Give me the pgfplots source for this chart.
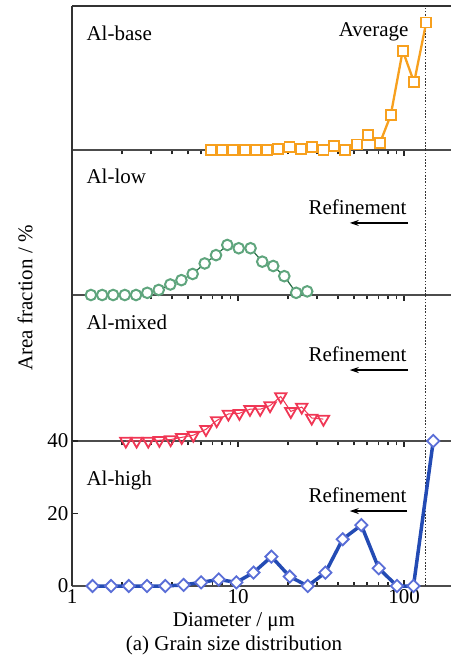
\documentclass[border=0pt]{standalone}
\usepackage{fontspec}
\setmainfont{Liberation Serif}
\usepackage{pgfplots}
\pgfplotsset{compat=1.18}
\usetikzlibrary{arrows.meta}
\definecolor{cOrange}{RGB}{247,160,30}
\definecolor{cGreenM}{RGB}{95,165,125}
\definecolor{cGreenL}{RGB}{40,110,70}
\definecolor{cRed}{RGB}{240,55,85}
\definecolor{cBlueL}{RGB}{35,75,180}
\definecolor{cBlueM}{RGB}{90,110,215}
\newcommand\bigf{\fontsize{21}{24}\selectfont}
\tikzset{avgline/.style={draw=black!80, line width=1.2pt, dash pattern=on 1.6pt off 1.6pt}}
\begin{document}
\begin{tikzpicture}
\path[use as bounding box] (0,0) rectangle (451pt,657pt);
% ---------- Al-base ----------
\begin{axis}[at={(72pt,507pt)}, height=144pt,
    scale only axis, width=379pt, anchor=south west,
    xmode=log, xmin=1, xmax=191.9, ymin=0, ymax=40,
    axis x line*=bottom, axis y line*=left,
    x axis line style={line width=2.6pt, black!70, -},
    y axis line style={line width=1.3pt, black!80, -},
    ytick=\empty, xticklabels=\empty, clip=false,
    tick style={black!85, line width=1.5pt},
    major tick length=6pt, minor tick length=4.5pt, tick align=outside]
\draw[avgline] (axis cs:134,0) -- (axis cs:134,40);
\draw[black!80, line width=1.4pt] (rel axis cs:0,1) -- (rel axis cs:1,1);
\addplot[color=cOrange, line width=2.3pt, mark=square*, mark size=5pt,
  mark options={solid, fill=white, draw=cOrange, line width=1.8pt}] coordinates {
(6.85,0) (7.98,0) (9.29,0) (11.0,0) (12.8,0) (15.0,0) (17.5,0.2) (20.4,0.9)
(23.9,0.2) (27.8,0.9) (32.7,0) (37.9,1.2) (44.1,0) (51.9,1.5) (61.0,4.1)
(71.7,2.0) (83.2,9.7) (98.2,27.6) (115,18.8) (136,35.4)};
\node[anchor=west, font=\bigf] at (rel axis cs:0.029,0.81) {Al-base};
\node[anchor=east, font=\bigf] at (rel axis cs:0.897,0.82) {Average};
\end{axis}
% ---------- Al-low ----------
\begin{axis}[at={(72pt,362pt)}, height=145pt,
    scale only axis, width=379pt, anchor=south west,
    xmode=log, xmin=1, xmax=191.9, ymin=0, ymax=40,
    axis x line*=bottom, axis y line*=left,
    x axis line style={line width=2.6pt, black!70, -},
    y axis line style={line width=1.3pt, black!80, -},
    ytick=\empty, xticklabels=\empty, clip=false,
    tick style={black!85, line width=1.5pt},
    major tick length=6pt, minor tick length=4.5pt, tick align=outside]
\draw[avgline] (axis cs:134,0) -- (axis cs:134,40);
\addplot[color=cGreenL, line width=1.2pt, mark=*, mark size=5.3pt,
  mark options={solid, fill=white, draw=cGreenM, line width=2pt}] coordinates {
(1.30,0) (1.52,0) (1.77,0) (2.08,0) (2.43,0) (2.84,0.6) (3.33,1.4) (3.91,2.9)
(4.56,4.1) (5.33,5.8) (6.30,8.7) (7.37,11.0) (8.62,13.8) (10.1,12.9) (11.9,12.9)
(14.0,9.2) (16.3,8.0) (19.0,5.2) (22.4,0.6) (26.1,1.0)};
\node[anchor=west, font=\bigf] at (rel axis cs:0.029,0.82) {Al-low};
\node[anchor=east, font=\bigf] at (rel axis cs:0.892,0.607) {Refinement};
\draw[-{Stealth[length=9pt,width=6pt]}, line width=1.4pt] (rel axis cs:0.887,0.497) -- (rel axis cs:0.733,0.497);
\end{axis}
% ---------- Al-mixed ----------
\begin{axis}[at={(72pt,216pt)}, height=146pt,
    scale only axis, width=379pt, anchor=south west,
    xmode=log, xmin=1, xmax=191.9, ymin=0, ymax=40,
    axis x line*=bottom, axis y line*=left,
    x axis line style={line width=2.6pt, black!70, -},
    y axis line style={line width=1.3pt, black!80, -},
    ytick=\empty, xticklabels=\empty, clip=false,
    tick style={black!85, line width=1.5pt},
    major tick length=6pt, minor tick length=4.5pt, tick align=outside]
\draw[avgline] (axis cs:134,0) -- (axis cs:134,40);
\addplot[color=cRed, line width=1pt, mark=triangle, mark size=6.6pt,
  mark options={solid, draw=cRed, line width=1.8pt, rotate=180}] coordinates {
(2.11,0) (2.45,0) (2.88,0) (3.36,0.2) (3.93,0.4) (4.58,1.0) (5.38,1.6) (6.41,3.2)
(7.44,5.6) (8.75,7.4) (10.2,7.6) (11.8,8.7) (13.6,8.7) (15.6,9.7) (18.1,12.2)
(20.8,8.1) (24.2,9.3) (27.8,6.3) (32.7,6.0)};
\node[anchor=west, font=\bigf] at (rel axis cs:0.029,0.815) {Al-mixed};
\node[anchor=east, font=\bigf] at (rel axis cs:0.892,0.596) {Refinement};
\draw[-{Stealth[length=9pt,width=6pt]}, line width=1.4pt] (rel axis cs:0.887,0.486) -- (rel axis cs:0.733,0.486);
\end{axis}
% ---------- Al-high ----------
\begin{axis}[at={(72pt,71pt)}, height=145pt,
    scale only axis, width=379pt, anchor=south west,
    xmode=log, xmin=1, xmax=191.9, ymin=0, ymax=40,
    axis x line*=bottom, axis y line*=left,
    x axis line style={line width=2.6pt, black!70, -},
    y axis line style={line width=1.3pt, black!80, -},
    clip=false,
    tick style={black!85, line width=1.5pt},
    major tick length=6pt, minor tick length=4.5pt, tick align=inside,
    xtick={1,10,100}, xticklabels={1,10,100},
    ytick={0,20,40}, yticklabels={0,20,40},
    tick label style={font=\fontsize{21}{23}\selectfont}]
\draw[avgline] (axis cs:134,0) -- (axis cs:134,40);
\addplot[color=cBlueL, line width=3.5pt, mark=square*, mark size=4.3pt,
  mark options={solid, fill=white, draw=cBlueM, line width=1.8pt, rotate=45}] coordinates {
(1.33,0) (1.72,0) (2.2,0) (2.83,0) (3.65,0) (4.7,0.3) (6.0,1.0) (7.65,1.8)
(9.77,1.0) (12.4,3.7) (15.9,8.1) (20.5,2.6) (26.3,0) (33.6,3.7) (42.7,12.9)
(55.3,16.8) (70.4,4.9) (90.7,0) (114,0) (150,40)};
\node[anchor=west, font=\bigf] at (rel axis cs:0.029,0.731) {Al-high};
\node[anchor=east, font=\bigf] at (rel axis cs:0.892,0.628) {Refinement};
\draw[-{Stealth[length=9pt,width=6pt]}, line width=1.4pt] (rel axis cs:0.884,0.517) -- (rel axis cs:0.733,0.517);
\end{axis}
\node[rotate=90, font=\bigf] at (25pt,359pt) {Area fraction / \%};
\node[font=\bigf] at (234pt,35pt) {Diameter / μm};
\node[font=\bigf] at (234pt,12pt) {(a) Grain size distribution};
\end{tikzpicture}
\end{document}
